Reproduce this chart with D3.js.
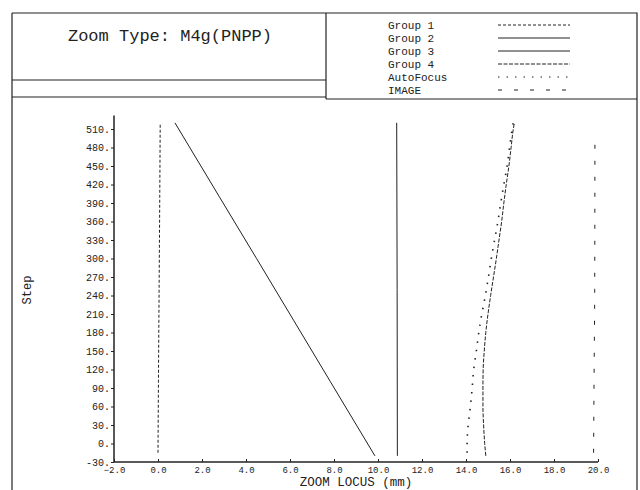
<!DOCTYPE html>
<html>
<head>
<meta charset="utf-8">
<script src="https://cdn.jsdelivr.net/npm/d3@7"></script>
<style>
  body { margin: 0; background: #fff; }
  svg { display: block; }
  text { font-family: "Liberation Mono", "DejaVu Sans Mono", monospace; fill: #222; }
</style>
</head>
<body>
<svg id="chart" width="640" height="490"></svg>
<script>
// ---- data (step -> zoom locus in mm) ----
const title = 'Zoom Type: M4g(PNPP)';
const seriesNames = ['Group 1', 'Group 2', 'Group 3', 'Group 4', 'AutoFocus', 'IMAGE'];

const xTicks = [-2, 0, 2, 4, 6, 8, 10, 12, 14, 16, 18, 20];
const yTicks = [-30, 0, 30, 60, 90, 120, 150, 180, 210, 240, 270, 300, 330, 360, 390, 420, 450, 480, 510];

const group1 = [[-15, 0.0], [100, 0.02], [200, 0.04], [300, 0.06], [400, 0.08], [520, 0.1]];
const group2 = [[-20, 9.86], [100, 7.84], [200, 6.16], [300, 4.48], [400, 2.79], [520, 0.77]];
const group3 = [[-20, 10.88], [250, 10.87], [520, 10.85]];
const group4 = [[-20, 14.9], [0, 14.85], [30, 14.8], [60, 14.77], [90, 14.77], [120, 14.78],
  [150, 14.83], [180, 14.9], [210, 15.0], [240, 15.12], [270, 15.25], [300, 15.38],
  [330, 15.5], [360, 15.62], [390, 15.72], [420, 15.83], [450, 15.95], [480, 16.05],
  [510, 16.15], [520, 16.2]];
const autoFocus = [[-15, 14.05], [0, 14.05], [30, 14.1], [60, 14.2], [90, 14.28], [120, 14.35],
  [150, 14.47], [180, 14.58], [210, 14.72], [240, 14.88], [270, 15.02], [300, 15.15],
  [330, 15.3], [360, 15.45], [390, 15.58], [420, 15.72], [450, 15.87], [480, 15.98],
  [510, 16.1], [520, 16.15]];
const image = [[-15, 19.8], [100, 19.82], [250, 19.85], [500, 19.86]];

// line styles per series (dash patterns)
const dashes = ['3,2', null, null, '4,1.5', '1.5,7', '4,12'];
const seriesData = [group1, group2, group3, group4, autoFocus, image];

const svg = d3.select('#chart');
const ink = '#222';

// ---- frame boxes ----
const frame = svg.append('g')
  .attr('fill', 'none')
  .attr('stroke', ink)
  .attr('stroke-width', 1.2);
frame.append('path').attr('d', 'M12,13 H637 V490');          // top + right
frame.append('path').attr('d', 'M12,13 V490');               // left
frame.append('path').attr('d', 'M326,13 V99');               // title / legend divider
frame.append('path').attr('d', 'M12,80 H326');
frame.append('path').attr('d', 'M12,97 H326');
frame.append('path').attr('d', 'M326,99 H637');

svg.append('text')
  .attr('x', 170)
  .attr('y', 41)
  .attr('text-anchor', 'middle')
  .attr('font-size', 17)
  .text(title);

// ---- legend ----
const legend = svg.append('g');
seriesNames.forEach((name, i) => {
  const y = 25 + i * 13;
  legend.append('text')
    .attr('x', 388)
    .attr('y', y + 4)
    .attr('font-size', 11)
    .text(name);
  legend.append('line')
    .attr('x1', 498).attr('x2', 570)
    .attr('y1', y).attr('y2', y)
    .attr('stroke', ink)
    .attr('stroke-width', 1)
    .attr('stroke-dasharray', dashes[i]);
});

// ---- scales ----
const xScale = d3.scaleLinear().domain([-2, 20]).range([114, 598]);
const yScale = d3.scaleLinear().domain([-30, 510]).range([462, 129]);

// ---- axes ----
const xAxis = svg.append('g')
  .attr('transform', `translate(0,${yScale(-30)})`)
  .call(d3.axisBottom(xScale).tickValues(xTicks).tickSize(-3).tickSizeOuter(0)
    .tickFormat(d => d3.format('.1f')(d)));
xAxis.select('.domain').remove();
xAxis.selectAll('text').attr('font-size', 9).attr('dy', '0.9em').attr('fill', ink)
  .attr('font-family', '"Liberation Mono", monospace');
xAxis.selectAll('line').attr('stroke', ink);

const yAxis = svg.append('g')
  .attr('transform', `translate(${xScale(-2)},0)`)
  .call(d3.axisLeft(yScale).tickValues(yTicks).tickSize(3).tickSizeOuter(0)
    .tickFormat(d => d + '.'));
yAxis.select('.domain').remove();
yAxis.selectAll('text').attr('font-size', 10).attr('x', -4).attr('fill', ink)
  .attr('font-family', '"Liberation Mono", monospace');
yAxis.selectAll('line').attr('stroke', ink);

// axis lines (y runs a bit above the last tick)
svg.append('line')
  .attr('x1', xScale(-2)).attr('x2', xScale(-2))
  .attr('y1', yScale(532)).attr('y2', yScale(-30))
  .attr('stroke', ink).attr('stroke-width', 1.5);
svg.append('line')
  .attr('x1', xScale(-2)).attr('x2', xScale(20))
  .attr('y1', yScale(-30)).attr('y2', yScale(-30))
  .attr('stroke', ink).attr('stroke-width', 1.3);

// axis titles
svg.append('text')
  .attr('x', (xScale(-2) + xScale(20)) / 2)
  .attr('y', 486)
  .attr('text-anchor', 'middle')
  .attr('font-size', 12.5)
  .text('ZOOM LOCUS (mm)');
svg.append('text')
  .attr('transform', 'translate(31,290) rotate(-90)')
  .attr('text-anchor', 'middle')
  .attr('font-size', 12)
  .text('Step');

// ---- series ----
const line = d3.line()
  .x(d => xScale(d[1]))
  .y(d => yScale(d[0]))
  .curve(d3.curveMonotoneY);

svg.selectAll('.series')
  .data(seriesData)
  .enter()
  .append('path')
  .attr('class', 'series')
  .attr('fill', 'none')
  .attr('stroke', ink)
  .attr('stroke-width', (d, i) => i === 4 ? 1.6 : 1)
  .attr('stroke-dasharray', (d, i) => dashes[i])
  .attr('d', line);
</script>
</body>
</html>
